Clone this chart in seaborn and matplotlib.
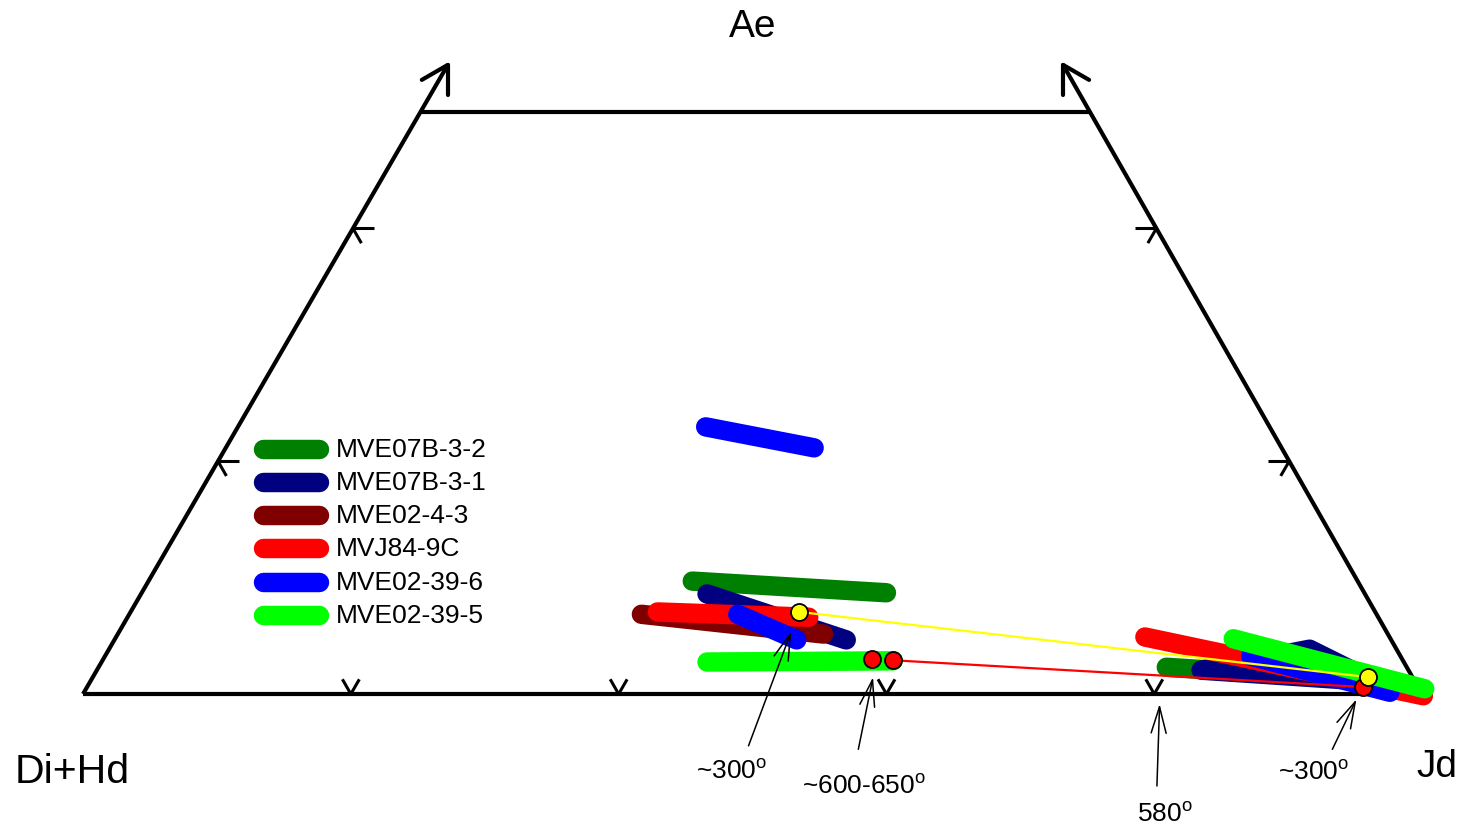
import numpy as np
import pandas as pd
import matplotlib
matplotlib.use("Agg")
import matplotlib.pyplot as plt
import seaborn as sns

sns.set_theme(style="white")
plt.rcParams['font.family'] = ['Liberation Sans', 'DejaVu Sans']
plt.rcParams['mathtext.fontset'] = 'custom'
plt.rcParams['mathtext.rm'] = 'Liberation Sans'
plt.rcParams['mathtext.it'] = 'Liberation Sans'
plt.rcParams['text.color'] = 'black'

# ---------------- data (diagram coords: X along Di+Hd -> Jd, Y toward Ae, 0-100) -------------
samples = ["MVE07B-3-2", "MVE07B-3-1", "MVE02-4-3", "MVJ84-9C", "MVE02-39-6", "MVE02-39-5"]
colors = ["#008000", "#000080", "#800000", "#ff0000", "#0000ff", "#00ff00"]

# one row per bar end: sample, segment id, X, Y
seg_sample = ["MVE07B-3-2", "MVE07B-3-2", "MVE07B-3-2", "MVE07B-3-2",
              "MVE07B-3-1", "MVE07B-3-1",
              "MVE02-4-3", "MVE02-4-3",
              "MVJ84-9C", "MVJ84-9C", "MVJ84-9C", "MVJ84-9C",
              "MVE02-39-6", "MVE02-39-6", "MVE02-39-6", "MVE02-39-6", "MVE02-39-6", "MVE02-39-6",
              "MVE02-39-5", "MVE02-39-5", "MVE02-39-5", "MVE02-39-5"]
seg_id = [0, 0, 1, 1,
          0, 0,
          0, 0,
          0, 0, 1, 1,
          0, 0, 1, 1, 2, 2,
          0, 0, 1, 1]
seg_x = [45.5, 60.0, 80.9, 92.4,
         46.6, 57.0,
         41.7, 55.3,
         42.9, 54.2, 79.3, 100.1,
         46.5, 54.6, 48.9, 53.3, 87.2, 97.6,
         46.6, 60.5, 85.9, 100.2]
seg_y = [19.4, 17.4, 4.6, 2.9,
         17.2, 9.3,
         13.7, 10.3,
         14.1, 13.2, 9.8, -0.3,
         45.9, 42.3, 13.7, 9.3, 6.5, 0.3,
         5.5, 5.7, 9.5, 0.9]

# MVE07B-3-1 wedge-shaped field near Jd
navy_patch_x = [83.5, 91.6, 96.5]
navy_patch_y = [4.1, 7.7, 2.1]

# tie lines and temperature points
yellow_x = [53.5, 96.0]
yellow_y = [14.1, 2.9]
red_x = [60.5, 95.6]
red_y = [5.8, 1.2]
red_pts_x = [58.9, 60.5, 95.6]
red_pts_y = [6.0, 5.8, 1.2]

# annotations: label, text pos, arrow tail, arrow tip
ann_labels = ["~300$^{\\rm o}$", "~600-650$^{\\rm o}$", "580$^{\\rm o}$", "~300$^{\\rm o}$"]
ann_text_x = [48.4, 58.3, 80.8, 91.9]
ann_text_y = [-13.2, -15.8, -20.6, -13.4]
ann_tail_x = [49.7, 57.9, 80.2, 93.3]
ann_tail_y = [-8.9, -9.5, -15.8, -9.5]
ann_tip_x = [52.9, 59.0, 80.4, 95.1]
ann_tip_y = [10.8, 2.9, -1.7, -0.9]

# frame
corner_x = [0.0, 100.0, 75.2, 25.2]   # Di+Hd, Jd, top-right, top-left
corner_y = [0.0, 0.0, 100.0, 100.0]
arrow_tip_y = 108.1
base_ticks = [20, 40, 60, 80]
side_ticks = [40, 80]

df = pd.DataFrame({"sample": seg_sample, "seg": seg_id, "X": seg_x, "Y": seg_y})

# ---------------- figure ----------------
fig = plt.figure(figsize=(14.72, 8.29), dpi=100)
ax = fig.add_axes([0, 0, 1, 1])
ax.set_xlim(-6.20, 103.73)
ax.set_ylim(-23.02, 119.42)
ax.axis("off")

SX, SY = 13.39, 5.82   # px per diagram unit


def px(dx, dy):
    """convert a pixel offset (y down) to diagram units"""
    return dx / SX, -dy / SY


FRAME_LW = 3.0
k = "black"
# base and top
ax.plot([corner_x[0], corner_x[1]], [0, 0], color=k, lw=FRAME_LW, solid_capstyle="butt")
ax.plot([corner_x[3], corner_x[2]], [100, 100], color=k, lw=FRAME_LW, solid_capstyle="butt")
# sides extended to arrows
lslope = corner_x[3] / 100.0
rslope = (corner_x[2] - 100.0) / 100.0
ltip = (lslope * arrow_tip_y, arrow_tip_y)
rtip = (100 + rslope * arrow_tip_y, arrow_tip_y)
ax.plot([0, ltip[0]], [0, ltip[1]], color=k, lw=FRAME_LW, solid_capstyle="butt")
ax.plot([100, rtip[0]], [0, rtip[1]], color=k, lw=FRAME_LW, solid_capstyle="butt")

# arrowheads (open chevrons)
AL = 30
for tip, arms in [(ltip, [(0, 1), (-0.866, 0.5)]), (rtip, [(0, 1), (0.866, 0.5)])]:
    for a in arms:
        dx, dy = px(a[0] * AL, a[1] * AL)
        ax.plot([tip[0], tip[0] + dx], [tip[1], tip[1] + dy], color=k, lw=FRAME_LW,
                solid_capstyle="round")

TICK_LW = 2.2
TL = 17
# base ticks (V shapes)
for t in base_ticks:
    for a in [(-0.4956, -0.8686), (0.501, -0.865)]:
        dx, dy = px(a[0] * TL, a[1] * TL)
        ax.plot([t, t + dx], [0, dy], color=k, lw=TICK_LW, solid_capstyle="butt")
# side ticks
for t in side_ticks:
    xl = lslope * t
    dx, dy = px(21, 0)
    ax.plot([xl, xl + dx], [t, t], color=k, lw=TICK_LW, solid_capstyle="butt")
    dx, dy = px(0.4956 * TL, 0.8686 * TL)
    ax.plot([xl, xl + dx], [t, t + dy], color=k, lw=TICK_LW, solid_capstyle="butt")
    xr = 100 + rslope * t
    dx, dy = px(-21, 0)
    ax.plot([xr, xr + dx], [t, t], color=k, lw=TICK_LW, solid_capstyle="butt")
    dx, dy = px(-0.501 * TL, 0.865 * TL)
    ax.plot([xr, xr + dx], [t, t + dy], color=k, lw=TICK_LW, solid_capstyle="butt")

# ---------------- compositional bars ----------------
BAR_LW = 14
pal = dict(zip(samples, colors))
for z, s in enumerate(samples):
    sub = df[df["sample"] == s]
    sns.lineplot(data=sub, x="X", y="Y", units="seg", estimator=None, sort=False,
                 color=pal[s], lw=BAR_LW, solid_capstyle="round", ax=ax,
                 legend=False, zorder=3 + z)
    if s == "MVE07B-3-1":
        ax.fill(navy_patch_x, navy_patch_y, facecolor=pal[s], edgecolor=pal[s],
                lw=BAR_LW, joinstyle="round", zorder=3 + z)

# tie lines and points
ax.plot(yellow_x, yellow_y, color="#ffff00", lw=1.6, zorder=20)
ax.plot(red_x, red_y, color="#ff0000", lw=1.6, zorder=20)
sns.scatterplot(x=red_pts_x, y=red_pts_y, color="#ff0000", edgecolor="black",
                linewidth=1.3, s=150, ax=ax, zorder=21, legend=False)
sns.scatterplot(x=yellow_x, y=yellow_y, color="#ffff00", edgecolor="black",
                linewidth=1.3, s=150, ax=ax, zorder=22, legend=False)

# ---------------- labels ----------------
ax.text(50.0, 114.8, "Ae", fontsize=28, ha="center", va="center")
ax.text(-0.8, -13.2, "Di+Hd", fontsize=29.5, ha="center", va="center")
ax.text(101.1, -12.4, "Jd", fontsize=28, ha="center", va="center")

for lab, tx, ty, ax0, ay0, ax1, ay1 in zip(ann_labels, ann_text_x, ann_text_y,
                                           ann_tail_x, ann_tail_y, ann_tip_x, ann_tip_y):
    ax.text(tx, ty, lab, fontsize=19, ha="center", va="center")
    ax.annotate("", xy=(ax1, ay1), xytext=(ax0, ay0),
                arrowprops=dict(arrowstyle="->,head_length=0.95,head_width=0.27",
                                mutation_scale=20, lw=1.1, color="black",
                                shrinkA=0, shrinkB=0), zorder=25)

# ---------------- legend ----------------
leg_x0, leg_x1, leg_tx = 0.1787, 0.2167, 0.2283
leg_y0, leg_dy = 0.4572, 0.0400
for i, s in enumerate(samples):
    yy = leg_y0 - i * leg_dy
    ax.plot([leg_x0, leg_x1], [yy, yy], transform=ax.transAxes, color=pal[s],
            lw=BAR_LW, solid_capstyle="round")
    ax.text(leg_tx, yy, s, transform=ax.transAxes, fontsize=19, ha="left", va="center")

fig.savefig("out.png", dpi=100)
